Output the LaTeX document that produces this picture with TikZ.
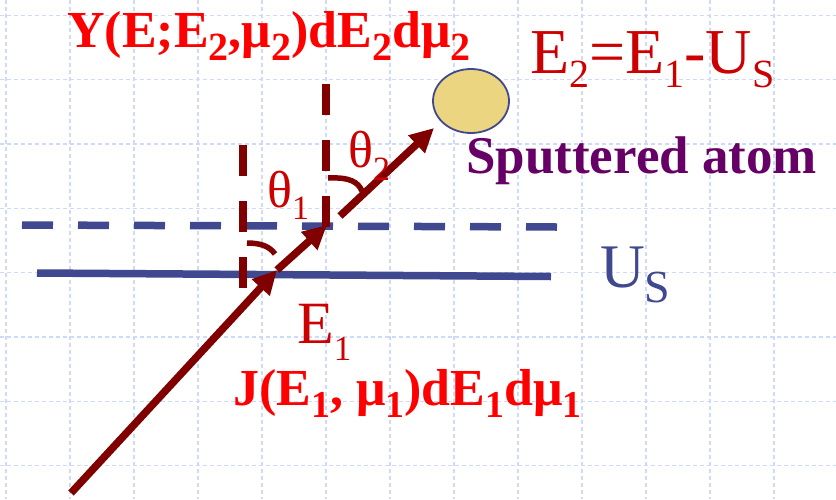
\documentclass[tikz,border=0pt]{standalone}
\usepackage{fontspec}
\setmainfont{Liberation Serif}
\usetikzlibrary{arrows.meta,shapes.geometric}
\definecolor{gridc}{RGB}{205,218,248}
\definecolor{lineblue}{RGB}{64,72,144}
\definecolor{arrred}{RGB}{128,0,0}
\definecolor{txtred}{RGB}{204,0,0}
\definecolor{brightred}{RGB}{255,0,0}
\definecolor{purp}{RGB}{102,0,102}
\definecolor{atomfill}{RGB}{235,213,128}
\newcommand\lowsub[3]{\raisebox{-#1pt}{\fontsize{#2}{#2}\selectfont #3}}
\tikzset{
  gridline/.style={draw=gridc, line width=1.3pt, dash pattern=on 4pt off 3pt},
  surface/.style={draw=lineblue, line width=7.5pt},
  surfdash/.style={draw=lineblue, line width=7.5pt, dash pattern=on 31pt off 25pt},
  normal/.style={draw=arrred, line width=7.5pt, dash pattern=on 31pt off 25pt},
  ray/.style={draw=arrred, line width=7.5pt, -{Triangle[length=24pt,width=23pt]}},
  anglemark/.style={draw=arrred, line width=5.5pt},
  lbl/.style={inner sep=0pt, anchor=base west},
  boldlbl/.style={lbl, text=brightred, font=\fontsize{52}{52}\selectfont\bfseries},
}
\begin{document}
\begin{tikzpicture}[x=1pt,y=-1pt]
\useasboundingbox[fill=white] (0,0) rectangle (836,499);
% background grid
\foreach \i in {0,...,12} \draw[gridline] ({6+64*\i},0) -- ({6+64*\i},499);
\foreach \i in {0,...,7} \draw[gridline] (0,{15.5+64.3*\i}) -- (836,{15.5+64.3*\i});
% surfaces
\draw[surfdash] (22,225) -- (557,227);
\draw[surface] (37,273) -- (551,276.5);
% normals
\draw[normal] (243,145) -- (243,288);
\draw[normal] (326,84) -- (326,227);
% angle marks
\draw[anglemark] (247,243) .. controls (262,243) and (270,247) .. (275,254);
\draw[anglemark] (328,178) .. controls (350,177) and (358,182) .. (362,191);
% atom
\node (atom) [ellipse, draw=lineblue, line width=1.8pt, fill=atomfill, minimum width=76pt, minimum height=64pt, inner sep=0pt] at (471,101) {};
% rays
\coordinate (src) at (71,493);
\coordinate (hit1) at (277,270);
\coordinate (hit2) at (327,225);
\coordinate (out0) at (340,216);
\coordinate (out1) at (434,128);
\draw[ray] (src) -- (hit1);
\draw[ray] (hit1) -- (hit2);
\draw[ray] (out0) -- (out1);
% labels
\node (ylab) [boldlbl] at (67,47) {Y(E;E\lowsub{13}{40}{2},μ\lowsub{13}{40}{2})dE\lowsub{13}{40}{2}dμ\lowsub{13}{40}{2}};
\node (e2lab) [lbl, text=txtred, font=\fontsize{64}{64}\selectfont] at (530,73) {E\lowsub{14}{40}{2}=E\lowsub{14}{40}{1}-U\lowsub{14}{40}{S}};
\node (th1) [lbl, text=txtred, font=\fontsize{52}{52}\selectfont] at (267,207) {θ\lowsub{12}{34}{1}};
\node (th2) [lbl, text=txtred, font=\fontsize{52}{52}\selectfont] at (348,167) {θ\lowsub{13}{34}{2}};
\node (spat) [lbl, text=purp, font=\fontsize{53}{53}\selectfont\bfseries] at (466,173) {Sputtered atom};
\node (us) [lbl, text=lineblue, font=\fontsize{62}{62}\selectfont] at (600,287) {U\lowsub{15}{46}{S}};
\node (e1) [lbl, text=txtred, font=\fontsize{60}{60}\selectfont] at (297,343) {E\lowsub{17}{35}{1}};
\node (jlab) [boldlbl] at (233,405) {J(E\lowsub{12}{38}{1}, μ\lowsub{12}{38}{1})dE\lowsub{12}{38}{1}dμ\lowsub{12}{38}{1}};
\end{tikzpicture}
\end{document}
